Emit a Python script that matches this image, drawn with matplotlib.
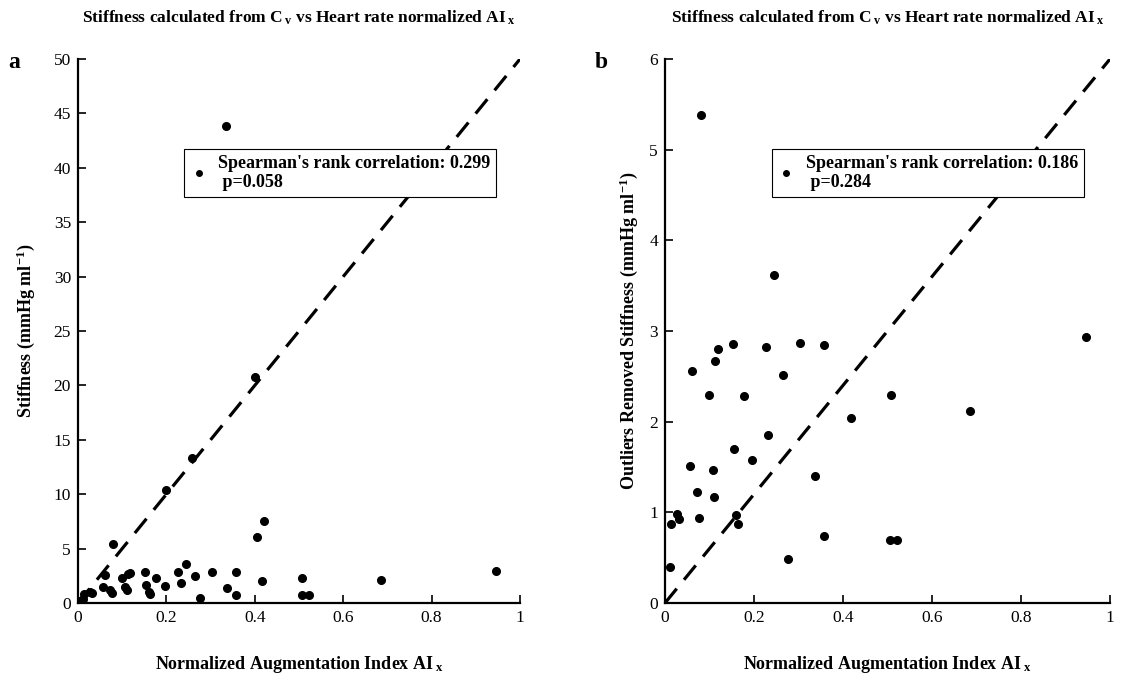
import matplotlib
matplotlib.use("Agg")
import matplotlib.pyplot as plt
from matplotlib.lines import Line2D

plt.rcParams['font.family'] = ['Liberation Serif', 'DejaVu Serif']
plt.rcParams['mathtext.fontset'] = 'custom'
plt.rcParams['mathtext.rm'] = 'Liberation Serif:bold'
plt.rcParams['mathtext.bf'] = 'Liberation Serif:bold'
plt.rcParams['mathtext.it'] = 'Liberation Serif:bold'

# ---- data (panel b: outliers removed) ----
b_x = [0.011, 0.014, 0.027, 0.031, 0.057, 0.060, 0.073, 0.076, 0.080, 0.099,
       0.107, 0.111, 0.113, 0.118, 0.152, 0.154, 0.160, 0.163, 0.177, 0.196,
       0.227, 0.232, 0.244, 0.265, 0.276, 0.303, 0.336, 0.358, 0.358, 0.417,
       0.507, 0.506, 0.522, 0.685, 0.945]
b_y = [0.40, 0.87, 0.98, 0.93, 1.51, 2.56, 1.22, 0.94, 5.38, 2.29,
       1.47, 1.17, 2.67, 2.80, 2.86, 1.70, 0.97, 0.87, 2.28, 1.58,
       2.82, 1.85, 3.62, 2.51, 0.49, 2.87, 1.40, 2.85, 0.74, 2.04,
       2.29, 0.69, 0.69, 2.12, 2.93]
# extra points present only in panel a (outliers)
out_x = [0.004, 0.200, 0.259, 0.335, 0.400, 0.405, 0.420]
out_y = [0.15, 10.4, 13.3, 43.8, 20.8, 6.1, 7.5]
a_x = b_x + out_x
a_y = b_y + out_y

titles = ["Stiffness calculated from C$\\,_{\\mathbf{v}}$ vs Heart rate normalized AI$\\,_{\\mathbf{x}}$"] * 2
ylabels = ["Stiffness (mmHg ml$^{\\mathbf{-1}}$)",
           "Outliers Removed Stiffness (mmHg ml$^{\\mathbf{-1}}$)"]
xlabel = "Normalized Augmentation Index AI$\\,_{\\mathbf{x}}$"
legend_texts = ["Spearman's rank correlation: 0.299\n p=0.058",
                "Spearman's rank correlation: 0.186\n p=0.284"]
panel_letters = ["a", "b"]
ymax = [50, 6]
yticks = [list(range(0, 51, 5)), list(range(0, 7, 1))]
xticks = [0, 0.2, 0.4, 0.6, 0.8, 1]
xticklabels = ["0", "0.2", "0.4", "0.6", "0.8", "1"]

fig = plt.figure(figsize=(11.42, 6.74), dpi=100)
W, H = 1142, 674
axes_px = [(78, 520), (665, 1110)]
top_px, bot_px = 59, 603
ylabel_pads = [12, 7]

for i, (xs, ys) in enumerate([(a_x, a_y), (b_x, b_y)]):
    l, r = axes_px[i]
    ax = fig.add_axes([l / W, 1 - bot_px / H, (r - l) / W, (bot_px - top_px) / H])
    ax.plot([0, 1], [0, ymax[i]], color='black', lw=2.3,
            linestyle=(0, (5.8, 3.6)), zorder=2)
    ax.plot(xs, ys, 'o', color='black', ms=5.5, zorder=3)
    ax.set_xlim(0, 1)
    ax.set_ylim(0, ymax[i])
    ax.set_xticks(xticks)
    ax.set_xticklabels(xticklabels)
    ax.set_yticks(yticks[i])
    for s in ['top', 'right']:
        ax.spines[s].set_visible(False)
    for s in ['left', 'bottom']:
        ax.spines[s].set_linewidth(1.6)
    ax.tick_params(direction='in', length=6, width=1.2, labelsize=12.5, pad=5)
    ax.set_title(titles[i], fontsize=12.5, fontweight='bold', pad=26)
    ax.set_xlabel(xlabel, fontsize=13, fontweight='bold', labelpad=20)
    ax.set_ylabel(ylabels[i], fontsize=13, fontweight='bold', labelpad=ylabel_pads[i])
    h = Line2D([], [], marker='o', color='black', linestyle='None', ms=4)
    leg = ax.legend([h], [legend_texts[i]], loc='upper left',
                    bbox_to_anchor=(0.24, 0.834), borderaxespad=0,
                    frameon=True, fancybox=False, framealpha=1,
                    handlelength=1.0, handletextpad=0.6, borderpad=0.3,
                    prop={'weight': 'bold', 'size': 13})
    leg.set_zorder(5)
    leg.get_frame().set_edgecolor('black')
    leg.get_frame().set_linewidth(0.8)
    fig.text((l - 70) / W, 1 - 62 / H, panel_letters[i], fontsize=17,
             fontweight='bold', va='center', ha='left')

fig.savefig("out.png", dpi=100)
